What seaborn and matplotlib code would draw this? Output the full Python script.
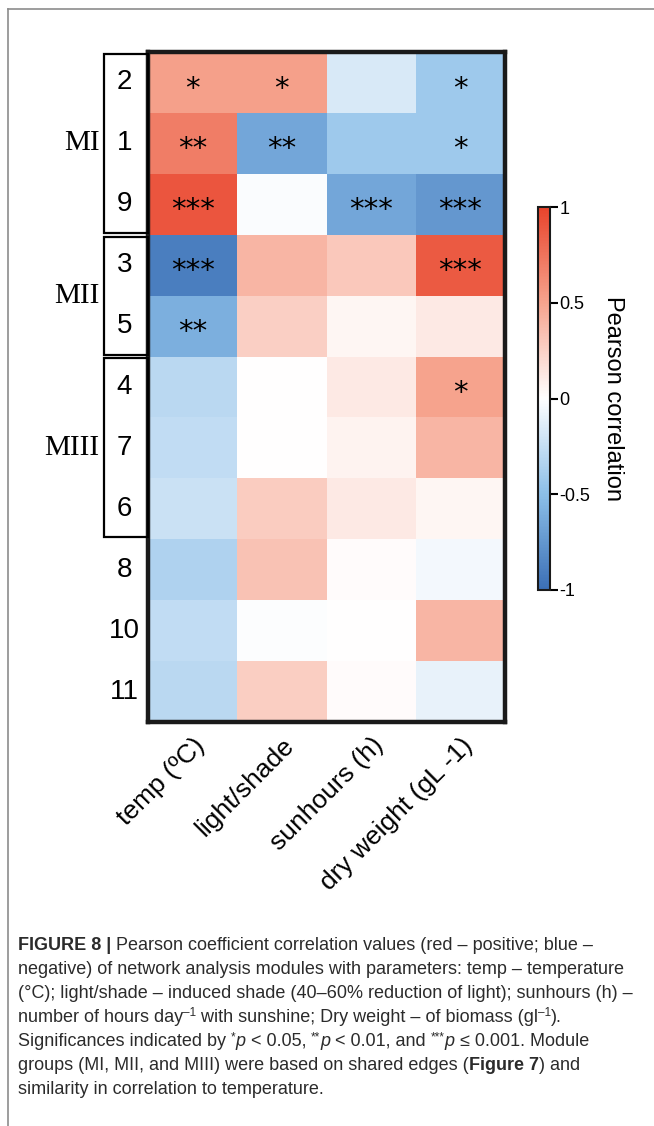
import matplotlib
matplotlib.use("Agg")
import matplotlib.pyplot as plt
import seaborn as sns
import pandas as pd
import numpy as np
from matplotlib.colors import LinearSegmentedColormap
from matplotlib.patches import Rectangle
from matplotlib.lines import Line2D

# modules (rows) and parameters (columns)
modulos = ['2', '1', '9', '3', '5', '4', '7', '6', '8', '10', '11']
parametros = ['temp (ºC)', 'light/shade', 'sunhours (h)', 'dry weight (gL -1)']

temp = [0.52, 0.70, 0.90, -0.90, -0.60, -0.30, -0.27, -0.23, -0.35, -0.27, -0.30]
luz = [0.52, -0.65, -0.02, 0.40, 0.26, 0.0, 0.0, 0.28, 0.33, -0.01, 0.27]
sol = [-0.17, -0.42, -0.65, 0.30, 0.05, 0.12, 0.07, 0.12, 0.02, 0.0, 0.02]
peso = [-0.42, -0.42, -0.75, 0.88, 0.12, 0.50, 0.40, 0.05, -0.05, 0.40, -0.10]

sig_temp = ['*', '**', '***', '***', '**', '', '', '', '', '', '']
sig_luz = ['*', '**', '', '', '', '', '', '', '', '', '']
sig_sol = ['', '', '***', '', '', '', '', '', '', '', '']
sig_peso = ['*', '*', '***', '***', '', '*', '', '', '', '', '']

grupos = ['MI', 'MII', 'MIII']
grupo_inicio = [0, 3, 5]
grupo_fim = [3, 5, 8]

legenda = [
    [("FIGURE 8 | ", "b"), ("Pearson coefficient correlation values (red – positive; blue –", "")],
    [("negative) of network analysis modules with parameters: temp – temperature", "")],
    [("(°C); light/shade – induced shade (40–60% reduction of light); sunhours (h) –", "")],
    [("number of hours day", ""), ("–1", "sup"), (" with sunshine; Dry weight – of biomass (gl", ""),
     ("–1", "sup"), (").", "")],
    [("Significances indicated by ", ""), ("*", "sup"), ("p", "i"), (" < 0.05, ", ""), ("**", "sup"),
     ("p", "i"), (" < 0.01, and ", ""), ("***", "sup"), ("p", "i"), (" ≤ 0.001. Module", "")],
    [("groups (MI, MII, and MIII) were based on shared edges (", ""), ("Figure 7", "b"), (") and", "")],
    [("similarity in correlation to temperature.", "")],
]

df = pd.DataFrame({parametros[0]: temp, parametros[1]: luz,
                   parametros[2]: sol, parametros[3]: peso}, index=modulos)
anot = np.array([sig_temp, sig_luz, sig_sol, sig_peso]).T

cmap = LinearSegmentedColormap.from_list(
    'pearson', [(0.0, '#3b6fb6'), (0.25, '#8cbfe8'), (0.5, '#ffffff'),
                (0.75, '#f6a48e'), (1.0, '#e8432b')])

W, H = 654, 1126
fig = plt.figure(figsize=(W / 100, H / 100), dpi=100)
sans = ['Liberation Sans', 'DejaVu Sans']

def px(x0, y0, x1, y1):
    return [x0 / W, 1 - y1 / H, (x1 - x0) / W, (y1 - y0) / H]

ax = fig.add_axes(px(148, 52, 505, 722))
cax = fig.add_axes(px(538, 207, 550, 590))

sns.heatmap(df, ax=ax, cbar_ax=cax, cmap=cmap, vmin=-1, vmax=1,
            annot=anot, fmt='', annot_kws={'fontsize': 21, 'color': 'black', 'family': 'DejaVu Sans'})

# stars sit a bit low in the cells
for t in ax.texts:
    x, y = t.get_position()
    t.set_position((x, y + 0.1))

for s in ax.spines.values():
    s.set_visible(True)
    s.set_linewidth(3.2)
    s.set_color('#1a1a1a')

ax.set_xlabel('')
ax.set_ylabel('')
ax.set_xticklabels(parametros, rotation=45, ha='right', rotation_mode='anchor',
                   fontsize=19, family=sans)
ax.set_yticklabels(modulos, rotation=0, ha='center', fontsize=20, family=sans)
ax.tick_params(axis='x', length=0, pad=8)
ax.tick_params(axis='y', length=0, pad=17)

# group brackets
for g, a, b in zip(grupos, grupo_inicio, grupo_fim):
    ax.add_patch(Rectangle((-0.49, a + 0.03), 0.49, b - a - 0.06, fill=False,
                           lw=1.6, ec='black', clip_on=False, zorder=5))
    ax.text(-0.54, (a + b) / 2, g, ha='right', va='center', fontsize=21,
            family='Liberation Serif', clip_on=False)

cbar = ax.collections[0].colorbar
cbar.set_ticks([-1, -0.5, 0, 0.5, 1])
cbar.set_ticklabels(['-1', '-0.5', '0', '0.5', '1'])
cax.tick_params(length=6, width=1.5, labelsize=13, pad=1, color='black')
for lab in cax.get_yticklabels():
    lab.set_family(sans)
cbar.outline.set_visible(True)
cbar.outline.set_linewidth(1.5)
cbar.outline.set_edgecolor('#1a1a1a')
cbar.set_label('Pearson correlation', rotation=270, fontsize=17, labelpad=24, family=sans)

# page border
fig.add_artist(Line2D([8 / W, 1], [1 - 9 / H, 1 - 9 / H], color='#8c8c8c', lw=1.2))
fig.add_artist(Line2D([8 / W, 8 / W], [1 - 9 / H, 0], color='#8c8c8c', lw=1.2))

# caption, drawn run by run
fig.canvas.draw()
renderer = fig.canvas.get_renderer()
tam = 13
for i, linha in enumerate(legenda):
    x = 18
    base = 950 + i * 24
    for txt, estilo in linha:
        kw = dict(fontsize=tam, family=sans, color='#2b2b2b', va='baseline')
        y = base
        if estilo == 'b':
            kw['fontweight'] = 'bold'
        if estilo == 'i':
            kw['style'] = 'italic'
        if estilo == 'sup':
            kw['fontsize'] = tam * 0.65
            y = base - 6
        t = fig.text(x / W, 1 - y / H, txt, **kw)
        x += t.get_window_extent(renderer).width

fig.savefig('out.png', dpi=100)
